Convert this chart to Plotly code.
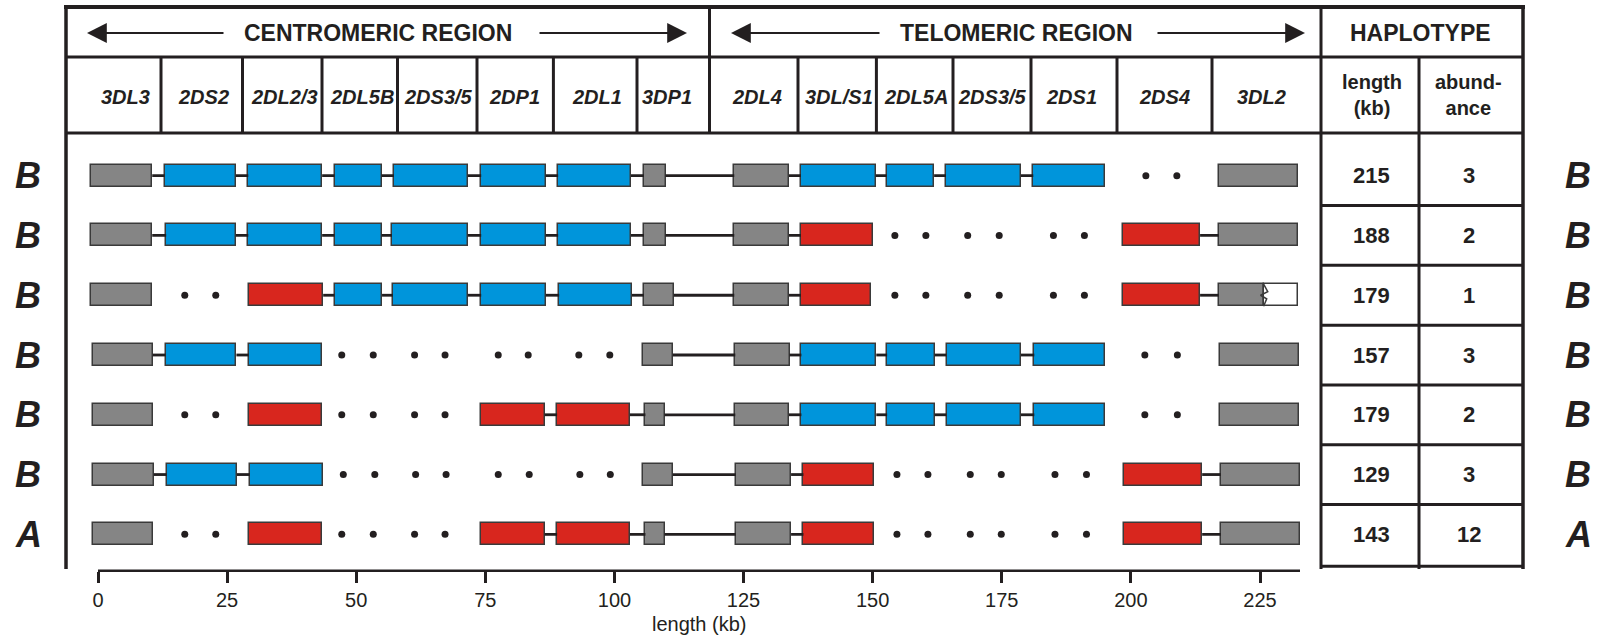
import plotly.graph_objects as go

# ---------------- data ----------------
GENES = ["3DL3", "2DS2", "2DL2/3", "2DL5B", "2DS3/5", "2DP1", "2DL1", "3DP1",
         "2DL4", "3DL/S1", "2DL5A", "2DS3/5", "2DS1", "2DS4", "3DL2"]
HAPLOTYPES = ["B", "B", "B", "B", "B", "B", "A"]
LENGTH_KB = [215, 188, 179, 157, 179, 129, 143]
ABUNDANCE = [3, 2, 1, 3, 2, 3, 12]
TICKS_KB = [0, 25, 50, 75, 100, 125, 150, 175, 200, 225]

# kind codes: F framework (grey), B B-type gene (blue), A A-type gene (red),
# T truncated framework gene, '-' absent
H1_KIND = ["F", "B", "B", "B", "B", "B", "B", "F", "F", "B", "B", "B", "B", "-", "F"]
H1_START = [-1.3, 12.9, 29.1, 45.8, 57.3, 74.2, 89.1, 105.7, 123.2, 136.1, 152.7, 164.2, 181.1, None, 217.0]
H1_END = [10.5, 26.7, 43.4, 54.9, 71.6, 86.7, 103.2, 109.9, 133.8, 150.6, 161.9, 178.7, 194.9, None, 232.4]
H1_DOTS = [202.9, 208.9]

H2_KIND = ["F", "B", "B", "B", "B", "B", "B", "F", "F", "A", "-", "-", "-", "A", "F"]
H2_START = [-1.3, 13.2, 29.1, 45.8, 56.9, 74.2, 89.1, 105.7, 123.2, 136.1, None, None, None, 198.4, 217.0]
H2_END = [10.5, 26.7, 43.4, 54.9, 71.6, 86.7, 103.2, 109.9, 133.8, 150.0, None, None, None, 213.4, 232.4]
H2_DOTS = [154.3, 160.3, 168.4, 174.5, 185.0, 191.0]

H3_KIND = ["F", "-", "A", "B", "B", "B", "B", "F", "F", "A", "-", "-", "-", "A", "T"]
H3_START = [-1.3, None, 29.2, 45.8, 57.1, 74.2, 89.3, 105.7, 123.2, 136.1, None, None, None, 198.4, 217.0]
H3_END = [10.5, None, 43.6, 55.0, 71.6, 86.7, 103.4, 111.5, 133.8, 149.7, None, None, None, 213.4, 232.4]
H3_DOTS = [16.8, 22.8, 154.3, 160.3, 168.4, 174.5, 185.0, 191.0]
H3_3DL2_BREAK = 225.7

H4_KIND = ["F", "B", "B", "-", "-", "-", "-", "F", "F", "B", "B", "B", "B", "-", "F"]
H4_START = [-1.0, 13.1, 29.2, None, None, None, None, 105.5, 123.4, 136.2, 152.8, 164.3, 181.3, None, 217.2]
H4_END = [10.6, 26.8, 43.4, None, None, None, None, 111.3, 133.9, 150.7, 162.0, 178.7, 194.9, None, 232.5]
H4_DOTS = [47.2, 53.3, 61.3, 67.2, 77.5, 83.3, 93.1, 99.1, 202.7, 209.0]

H5_KIND = ["F", "-", "A", "-", "-", "A", "A", "F", "F", "B", "B", "B", "B", "-", "F"]
H5_START = [-1.0, None, 29.2, None, None, 74.1, 88.9, 106.0, 123.4, 136.2, 152.8, 164.3, 181.3, None, 217.2]
H5_END = [10.6, None, 43.4, None, None, 86.5, 103.0, 109.7, 133.8, 150.7, 162.0, 178.7, 194.9, None, 232.5]
H5_DOTS = [16.8, 22.8, 47.2, 53.3, 61.3, 67.2, 202.7, 209.0]

H6_KIND = ["F", "B", "B", "-", "-", "-", "-", "F", "F", "A", "-", "-", "-", "A", "F"]
H6_START = [-0.9, 13.3, 29.4, None, None, None, None, 105.5, 123.5, 136.6, None, None, None, 198.6, 217.4]
H6_END = [10.8, 26.9, 43.6, None, None, None, None, 111.3, 134.2, 150.2, None, None, None, 213.8, 232.8]
H6_DOTS = [47.5, 53.6, 61.5, 67.4, 77.5, 83.5, 93.3, 99.2, 154.7, 160.7, 168.9, 174.9, 185.3, 191.4]

H7_KIND = ["F", "-", "A", "-", "-", "A", "A", "F", "F", "A", "-", "-", "-", "A", "F"]
H7_START = [-1.0, None, 29.2, None, None, 74.1, 88.9, 106.0, 123.5, 136.6, None, None, None, 198.6, 217.4]
H7_END = [10.6, None, 43.4, None, None, 86.5, 103.0, 109.7, 134.2, 150.2, None, None, None, 213.8, 232.8]
H7_DOTS = [16.8, 22.8, 47.2, 53.3, 61.3, 67.2, 154.7, 160.7, 168.9, 174.9, 185.3, 191.4]

ROWS = [
    (H1_KIND, H1_START, H1_END, H1_DOTS),
    (H2_KIND, H2_START, H2_END, H2_DOTS),
    (H3_KIND, H3_START, H3_END, H3_DOTS),
    (H4_KIND, H4_START, H4_END, H4_DOTS),
    (H5_KIND, H5_START, H5_END, H5_DOTS),
    (H6_KIND, H6_START, H6_END, H6_DOTS),
    (H7_KIND, H7_START, H7_END, H7_DOTS),
]

# ---------------- layout helpers ----------------
W, H = 1598, 637
INK = "#231f20"
GREY = "#858585"
BLUE = "#0095db"
RED = "#d8261e"
EDGE = "#3a3a3a"
FONT = "Liberation Sans Narrow, Arial Narrow, Liberation Sans, Arial, sans-serif"


def px(x):
    return x / W


def py(y):
    return 1 - y / H


# x scale: 0 kb at 98 px, 225 kb at 1260 px
KB_PX = (1260 - 98) / 225.0
X_RANGE = [-98 / KB_PX, (W - 98) / KB_PX]
ROW0_PX, ROW_STEP = 175.7, 59.77
Y_TOP_PX, Y_BOT_PX = 140, 570.7
Y_RANGE = [(Y_BOT_PX - ROW0_PX) / ROW_STEP, (Y_TOP_PX - ROW0_PX) / ROW_STEP]
BOX_H = 22 / ROW_STEP

fig = go.Figure()

# connector lines between adjacent present genes (no dots in between)
lx, ly = [], []
for i, (kind, st, en, dots) in enumerate(ROWS):
    present = [j for j, k in enumerate(kind) if k != "-"]
    for a, b in zip(present[:-1], present[1:]):
        x0, x1 = en[a], st[b]
        if any(x0 < d < x1 for d in dots):
            continue
        lx += [x0, x1, None]
        ly += [i, i, None]
fig.add_trace(go.Scatter(x=lx, y=ly, mode="lines", line=dict(color=INK, width=2.8),
                         hoverinfo="skip", showlegend=False))

# boxes
colors = {"F": GREY, "B": BLUE, "A": RED, "W": "#ffffff"}
groups = {"F": ([], [], []), "B": ([], [], []), "A": ([], [], []), "W": ([], [], [])}
for i, (kind, st, en, dots) in enumerate(ROWS):
    for j, k in enumerate(kind):
        if k == "-":
            continue
        if k == "T":
            groups["F"][0].append(i); groups["F"][1].append(st[j]); groups["F"][2].append(H3_3DL2_BREAK - st[j])
            groups["W"][0].append(i); groups["W"][1].append(H3_3DL2_BREAK); groups["W"][2].append(en[j] - H3_3DL2_BREAK)
        else:
            groups[k][0].append(i); groups[k][1].append(st[j]); groups[k][2].append(en[j] - st[j])
for k, (ys, bases, lens) in groups.items():
    fig.add_trace(go.Bar(y=ys, x=lens, base=bases, orientation="h", width=BOX_H,
                         marker=dict(color=colors[k], line=dict(color=EDGE, width=1.5)),
                         hoverinfo="skip", showlegend=False))

# zigzag edge of the truncated 3DL2
zz_x = [H3_3DL2_BREAK, H3_3DL2_BREAK + 0.8, H3_3DL2_BREAK - 0.6, H3_3DL2_BREAK + 0.6, H3_3DL2_BREAK]
zz_y = [2 - BOX_H / 2, 2 - BOX_H / 6, 2, 2 + BOX_H / 6, 2 + BOX_H / 2]
fig.add_trace(go.Scatter(x=zz_x, y=zz_y, mode="lines", line=dict(color=EDGE, width=1.5),
                         hoverinfo="skip", showlegend=False))

# dots for absent genes
dx, dy = [], []
for i, (kind, st, en, dots) in enumerate(ROWS):
    dx += dots
    dy += [i] * len(dots)
fig.add_trace(go.Scatter(x=dx, y=dy, mode="markers", marker=dict(color=INK, size=7),
                         hoverinfo="skip", showlegend=False))

shapes = []


def hline(x0, x1, y, w=3):
    shapes.append(dict(type="line", xref="paper", yref="paper", x0=px(x0), x1=px(x1),
                       y0=py(y), y1=py(y), line=dict(color=INK, width=w)))


def vline(x, y0, y1, w=3):
    shapes.append(dict(type="line", xref="paper", yref="paper", x0=px(x), x1=px(x),
                       y0=py(y0), y1=py(y1), line=dict(color=INK, width=w)))


# header frame
hline(64, 1525, 7, 4)
hline(66, 1523, 57)
hline(66, 1523, 133)
vline(66, 6, 569, 3.5)
vline(709.5, 7, 133)
vline(1321, 7, 569)
vline(1523, 6, 569, 3.5)
vline(1419, 57, 569)
for xb in [161, 242.5, 322, 397.5, 477, 553.4, 637, 798, 876.4, 953, 1031, 1117, 1212]:
    vline(xb, 57, 133)
# table rows
for k in range(len(HAPLOTYPES)):
    hline(1321, 1523, ROW0_PX + ROW_STEP * (k + 0.5) + (2 if k == 6 else 0))

# x axis baseline
shapes.append(dict(type="line", xref="x", yref="paper", x0=0, x1=(1300 - 98) / KB_PX,
                   y0=py(570.7), y1=py(570.7), line=dict(color=INK, width=2.5)))

annotations = []


def text(x, y, s, size, yref="paper", **kw):
    annotations.append(dict(x=px(x), y=py(y) if yref == "paper" else y, xref="paper", yref=yref,
                            text=s, showarrow=False, font=dict(family=FONT, size=size, color=INK),
                            xanchor="center", yanchor="middle", **kw))


# region headers
text(378, 33, "<b>CENTROMERIC REGION</b>", 23)
text(1017, 33, "<b>TELOMERIC REGION</b>", 23)
text(1420, 33, "<b>HAPLOTYPE</b>", 23)


def arrow(xh, xt, y):
    annotations.append(dict(x=px(xh), y=py(y), xref="paper", yref="paper", ax=xt - xh, ay=0,
                            axref="pixel", ayref="pixel", text="", showarrow=True,
                            arrowhead=2, arrowsize=1.8, arrowwidth=2.2, arrowcolor=INK))


arrow(87, 225, 33)
arrow(687, 538, 33)
arrow(731, 881, 33)
arrow(1305, 1156, 33)

# gene labels
GENE_LABEL_X = [125, 204, 284, 362, 438.6, 514, 597, 667.4, 757, 839.4, 916.4, 992.3, 1071.6, 1164.8, 1261.5]
for g, gx in zip(GENES, GENE_LABEL_X):
    text(gx, 97, "<b><i>%s</i></b>" % g, 20)
text(1371.5, 95, "<b>length<br>(kb)</b>", 20)
text(1468, 95, "<b>abund-<br>ance</b>", 20)

# haplotype table values and labels
for i in range(len(HAPLOTYPES)):
    text(1371.5, i, "<b>%d</b>" % LENGTH_KB[i], 22, yref="y")
    text(1469, i, "<b>%d</b>" % ABUNDANCE[i], 22, yref="y")
    text(28, i, "<b><i>%s</i></b>" % HAPLOTYPES[i], 36, yref="y")
    text(1578, i, "<b><i>%s</i></b>" % HAPLOTYPES[i], 36, yref="y")

# axis title
text(699, 624, "length (kb)", 20)

fig.update_layout(
    width=W, height=H, autosize=False,
    margin=dict(l=0, r=0, t=0, b=0),
    paper_bgcolor="white", plot_bgcolor="rgba(0,0,0,0)",
    barmode="overlay", bargap=0,
    shapes=shapes, annotations=annotations,
    xaxis=dict(domain=[0, 1], range=X_RANGE, tickvals=TICKS_KB, ticks="outside", ticklen=11,
               tickwidth=2.5, tickcolor=INK, showgrid=False, zeroline=False, showline=False,
               tickfont=dict(family=FONT, size=20, color=INK), fixedrange=True),
    yaxis=dict(domain=[py(Y_BOT_PX), py(Y_TOP_PX)], range=Y_RANGE, visible=False,
               showgrid=False, zeroline=False, fixedrange=True),
)

fig.write_html("out.html", config={"displayModeBar": False},
               post_script="document.body.style.margin='0px';document.body.style.overflow='hidden';")
